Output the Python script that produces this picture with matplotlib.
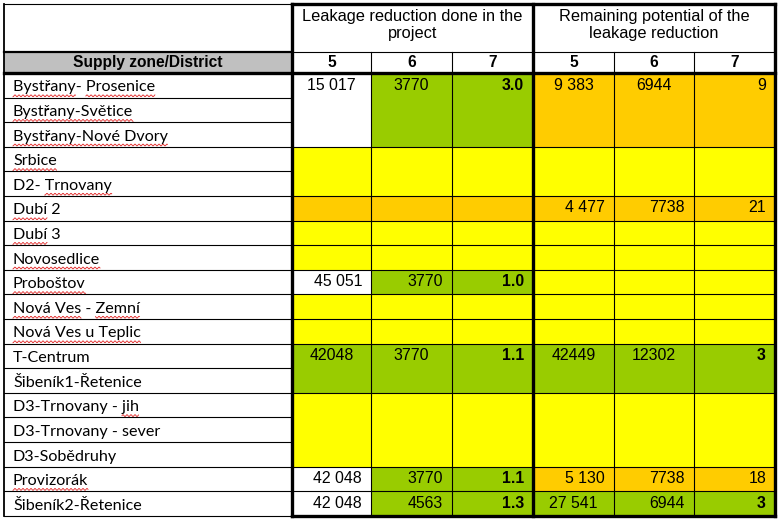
import matplotlib
matplotlib.use("Agg")
import matplotlib.pyplot as plt
from matplotlib.patches import Rectangle
import numpy as np

districts = ["Bystřany- Prosenice", "Bystřany-Světice", "Bystřany-Nové Dvory", "Srbice", "D2- Trnovany",
             "Dubí 2", "Dubí 3", "Novosedlice", "Proboštov", "Nová Ves - Zemní", "Nová Ves u Teplic",
             "T-Centrum", "Šibeník1-Řetenice", "D3-Trnovany - jih", "D3-Trnovany - sever", "D3-Sobědruhy",
             "Provizorák", "Šibeník2-Řetenice"]
# words carrying the red spell-check squiggle in the source document
squiggled = [["Bystřany", "Prosenice"], ["Bystřany-Světice"], ["Bystřany-Nové Dvory"], ["Srbice"],
             ["Trnovany"], ["Dubí"], ["Dubí"], ["Novosedlice"], ["Proboštov"], ["Nová Ves", "Zemní"],
             ["Nová Ves u Teplic"], [], [], ["jih"], [], [], ["Provizorák"], []]
group_titles = ["Leakage reduction done in the\nproject", "Remaining potential of the\nleakage reduction"]
sub_cols = ["5", "6", "7", "5", "6", "7"]
first_header = "Supply zone/District"

# merged groups of district rows: (first row, number of rows)
blocks = [(0, 3), (3, 2), (5, 1), (6, 1), (7, 1), (8, 1), (9, 1), (10, 1), (11, 2), (13, 3), (16, 1), (17, 1)]

# one value per block
done_5 = ["15 017", "", "", "", "", "45 051", "", "", "42048", "", "42 048", "42 048"]
done_6 = ["3770", "", "", "", "", "3770", "", "", "3770", "", "3770", "4563"]
done_7 = ["3.0", "", "", "", "", "1.0", "", "", "1.1", "", "1.1", "1.3"]
rem_5 = ["9 383", "", "4 477", "", "", "", "", "", "42449", "", "5 130", "27 541"]
rem_6 = ["6944", "", "7738", "", "", "", "", "", "12302", "", "7738", "6944"]
rem_7 = ["9", "", "21", "", "", "", "", "", "3", "", "18", "3"]

# status of each block cell: W none, G green, Y yellow, O orange
status = ["WGGOOO", "YYYYYY", "OOOOOO", "YYYYYY", "YYYYYY", "WGGYYY", "YYYYYY", "YYYYYY",
          "GGGGGG", "YYYYYY", "WGGOOO", "WGGGGG"]

fills = {"W": "white", "G": "#99CC00", "Y": "#FFFF00", "O": "#FFCC00"}
# text alignment per block cell (c centre, r right)
aligns = ["ccrccr", "rrrrrr", "rrrrrr", "rrrrrr", "rrrrrr", "rrrrrr", "rrrrrr", "rrrrrr",
          "ccrccr", "rrrrrr", "rrrrrr", "rrrcrr"]

col_x = [4, 292, 371, 452, 533, 614, 694, 775]
top, head1, head2 = 4, 52, 73
row_h = 24.6
row_y = [head2 + i * row_h for i in range(len(districts) + 1)]
bottom = row_y[-1]

fig = plt.figure(figsize=(7.81, 5.22), dpi=100)
ax = fig.add_axes([0, 0, 1, 1])
ax.set_xlim(0, 781)
ax.set_ylim(522, 0)
ax.axis("off")

name_font = "Lato"
num_font = "Liberation Sans"
num_size = 11.4

# fills
ax.add_patch(Rectangle((col_x[0], head1), col_x[1] - col_x[0], head2 - head1, color="#C0C0C0", lw=0))
columns = [done_5, done_6, done_7, rem_5, rem_6, rem_7]
for b, (r0, n) in enumerate(blocks):
    y0, y1 = row_y[r0], row_y[r0 + n]
    for c in range(6):
        x0, x1 = col_x[c + 1], col_x[c + 2]
        ax.add_patch(Rectangle((x0, y0), x1 - x0, y1 - y0, color=fills[status[b][c]], lw=0))
        val = columns[c][b]
        if val == "":
            continue
        bold = (c % 3 == 2) and status[b][c] == "G"
        if aligns[b][c] == "c":
            tx, ha = (x0 + x1) / 2, "center"
        else:
            tx, ha = x1 - 9, "right"
        ax.text(tx, y0 + 12, val, ha=ha, va="center", fontsize=num_size, family=num_font,
                fontweight="bold" if bold else "normal")

# district names with spell-check squiggles
renderer = fig.canvas.get_renderer()


def text_width(s):
    t = ax.text(0, 0, s, fontsize=11.6, family=name_font)
    w = t.get_window_extent(renderer).width
    t.remove()
    return w


for i, name in enumerate(districts):
    base = row_y[i] + 18.5
    ax.text(13, base, name, ha="left", va="baseline", fontsize=11.6, family=name_font)
    for word in squiggled[i]:
        k = name.find(word)
        xs = 13 + (text_width(name[:k]) if k > 0 else 0)
        xe = 13 + text_width(name[:k + len(word)])
        wx = np.arange(xs, xe, 0.5)
        ax.plot(wx, base + 4.3 + 0.9 * np.sin(wx * np.pi / 2), color="#E02020", lw=0.6)

# headers
ax.text((col_x[0] + col_x[1]) / 2, (head1 + head2) / 2, first_header, ha="center", va="center",
        fontsize=11.2, family=num_font, fontweight="bold")
for g, title in enumerate(group_titles):
    ax.text((col_x[1 + 3 * g] + col_x[4 + 3 * g]) / 2, 9.5, title, ha="center", va="top",
            fontsize=11.8, family=num_font, linespacing=1.1)
for c, lab in enumerate(sub_cols):
    ax.text((col_x[c + 1] + col_x[c + 2]) / 2, (head1 + head2) / 2, lab, ha="center", va="center",
            fontsize=11.2, family=num_font, fontweight="bold")

thin = dict(color="black", lw=0.8)
thick = dict(color="black", lw=2.4, solid_capstyle="projecting")

# thin grid
for y in row_y[1:-1]:
    ax.plot([col_x[0], col_x[1]], [y, y], **thin)
for r0, n in blocks[1:]:
    ax.plot([col_x[1], col_x[-1]], [row_y[r0], row_y[r0]], **thin)
for x in [col_x[2], col_x[3], col_x[5], col_x[6]]:
    ax.plot([x, x], [head1, bottom], **thin)
ax.plot([col_x[1], col_x[-1]], [head1, head1], **thin)
ax.plot([col_x[0], col_x[1]], [top, top], **thin)
ax.plot([col_x[0], col_x[1]], [bottom, bottom], **thin)
ax.plot([col_x[0], col_x[0]], [top, bottom], color="black", lw=1.3)

# thick borders
for x in [col_x[1], col_x[4], col_x[7]]:
    ax.plot([x, x], [top, bottom], **thick)
ax.plot([col_x[1], col_x[-1]], [top, top], **thick)
ax.plot([col_x[0], col_x[1]], [head1, head1], color="black", lw=1.6)
ax.plot([col_x[0], col_x[-1]], [head2, head2], **thick)
ax.plot([col_x[1], col_x[-1]], [bottom, bottom], **thick)

fig.savefig("out.png", dpi=100)
